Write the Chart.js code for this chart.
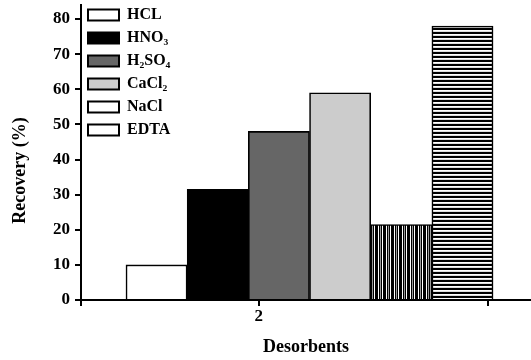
<!DOCTYPE html>
<html>
<head>
<meta charset="utf-8">
<script src="https://cdn.jsdelivr.net/npm/chart.js@4/dist/chart.umd.min.js"></script>
<style>
  body { margin: 0; background: #fff; }
</style>
</head>
<body>
<canvas id="recoveryChart" width="531" height="360"></canvas>
<script>
// Desorbents and recovery (%)
var desorbents = ['HCL', 'HNO₃', 'H₂SO₄', 'CaCl₂', 'NaCl', 'EDTA'];
var recovery = [10, 31.5, 48, 59, 21.5, 78];
// x axis tick labels (only the middle tick carries a label)
var xTickLabels = ['', '2', ''];

var ctx = document.getElementById('recoveryChart').getContext('2d');
var serif = 'Liberation Serif';

// striped fills for NaCl and EDTA
function stripes(vertical, colors) {
    var c = document.createElement('canvas');
    c.width = vertical ? colors.length : 1;
    c.height = vertical ? 1 : colors.length;
    var p = c.getContext('2d');
    colors.forEach(function (col, i) {
        p.fillStyle = col;
        if (vertical) p.fillRect(i, 0, 1, 1); else p.fillRect(0, i, 1, 1);
    });
    return ctx.createPattern(c, 'repeat');
}

var fills = ['#ffffff', '#000000', '#666666', '#cccccc',
    stripes(true, ['#000', '#000', '#fff', '#000', '#999', '#000', '#fff', '#000']),
    stripes(false, ['#000', '#000', '#fff', '#ddd'])];

var datasets = desorbents.map(function (name, i) {
    return {
        label: name,
        data: [{ x: i + 1, y: recovery[i] }],
        backgroundColor: fills[i],
        borderColor: '#000',
        borderWidth: 1.6
    };
});

new Chart(ctx, {
    type: 'bar',
    data: { datasets: datasets },
    options: {
        responsive: false,
        animation: false,
        devicePixelRatio: 1,
        layout: { padding: { top: 5, right: 0, bottom: 0, left: 0 } },
        datasets: {
            bar: { grouped: false, barPercentage: 1, categoryPercentage: 1 }
        },
        plugins: {
            tooltip: { enabled: false },
            legend: {
                position: 'chartArea',
                align: 'start',
                labels: {
                    boxWidth: 31,
                    boxHeight: 11,
                    padding: 7,
                    color: '#000',
                    font: { family: serif, size: 16, weight: 'bold' },
                    generateLabels: function (chart) {
                        var items = Chart.defaults.plugins.legend.labels.generateLabels(chart);
                        items.forEach(function (it) {
                            if (typeof it.fillStyle !== 'string') it.fillStyle = '#fff';
                            it.strokeStyle = '#000';
                            it.lineWidth = 2;
                        });
                        return items;
                    }
                }
            }
        },
        scales: {
            x: {
                type: 'linear',
                min: -0.235,
                max: 7.12,
                offset: false,
                grid: { offset: false, drawOnChartArea: false, color: '#000', lineWidth: 2, tickLength: 6 },
                border: { color: '#000', width: 2 },
                afterBuildTicks: function (scale) {
                    scale.ticks = [-0.235, 2.67, 6.415].map(function (v) { return { value: v }; });
                },
                ticks: {
                    autoSkip: false,
                    maxRotation: 0,
                    padding: 0,
                    color: '#000',
                    font: { family: serif, size: 17, weight: 'bold' },
                    callback: function (v, i) { return xTickLabels[i]; }
                },
                title: {
                    display: true,
                    text: 'Desorbents',
                    color: '#000',
                    font: { family: serif, size: 18, weight: 'bold' },
                    padding: { top: 0, bottom: 2 }
                },
                afterFit: function (scale) { scale.height = 60; }
            },
            y: {
                min: 0,
                max: 84,
                grid: { drawOnChartArea: false, color: '#000', lineWidth: 2, tickLength: 6 },
                border: { color: '#000', width: 2 },
                ticks: {
                    stepSize: 10,
                    includeBounds: false,
                    padding: 5,
                    color: '#000',
                    font: { family: serif, size: 17, weight: 'bold' }
                },
                title: {
                    display: true,
                    text: 'Recovery (%)        ',
                    color: '#000',
                    font: { family: serif, size: 18, weight: 'bold' },
                    padding: { top: 10, bottom: 0 }
                },
                afterFit: function (scale) {
                    scale.width = 81;
                    scale.paddingTop = 0;
                    scale.paddingBottom = 0;
                }
            }
        }
    }
});
</script>
</body>
</html>
